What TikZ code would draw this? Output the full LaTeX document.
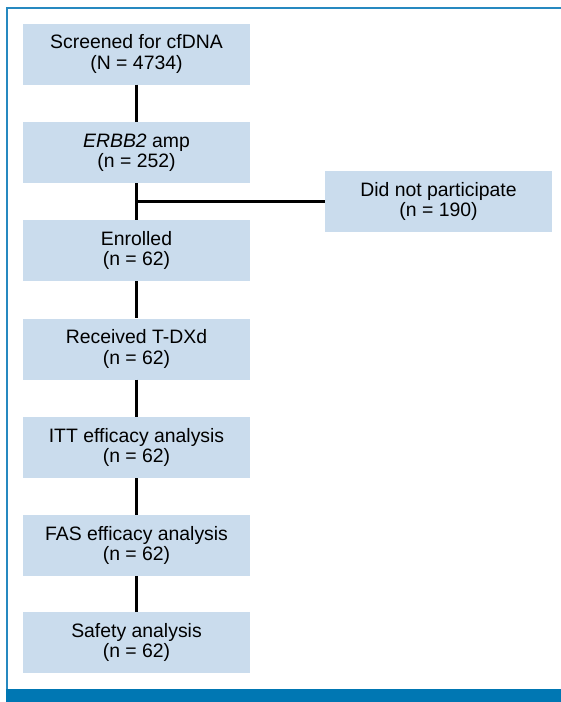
\documentclass[tikz,border=0pt]{standalone}
\usepackage{fontspec}
\setmainfont{Liberation Sans}
\definecolor{boxfill}{RGB}{202,220,237}
\definecolor{framecol}{RGB}{38,137,192}
\definecolor{barcol}{RGB}{0,119,179}
\begin{document}
\begin{tikzpicture}[x=1pt,y=-1pt,
  flowbox/.style={fill=boxfill, draw=none, minimum width=227pt, minimum height=61pt,
    inner sep=0pt, align=center, font=\fontsize{19.4}{20.5}\selectfont},
  link/.style={line width=2.2pt, black}]
\useasboundingbox (0,0) rectangle (561,702);
\fill[white] (0,0) rectangle (561,702);
\draw[framecol, line width=1.6pt] (6.8,689) -- (6.8,7.8) -- (561,7.8);
\fill[barcol] (6,689) rectangle (561,702);
\node[flowbox] (scr) at (136.5,54) {Screened for cfDNA\\(N = 4734)};
\node[flowbox] (amp) at (136.5,152.5) {\textit{ERBB2} amp\\(n = 252)};
\node[flowbox] (enr) at (136.5,250.5) {Enrolled\\(n = 62)};
\node[flowbox] (rec) at (136.5,349) {Received T-DXd\\(n = 62)};
\node[flowbox] (itt) at (136.5,447.5) {ITT efficacy analysis\\(n = 62)};
\node[flowbox] (fas) at (136.5,545.5) {FAS efficacy analysis\\(n = 62)};
\node[flowbox] (saf) at (136.5,642.5) {Safety analysis\\(n = 62)};
\node[flowbox] (dnp) at (438.5,201.5) {Did not participate\\(n = 190)};
\coordinate (br) at (136.5,201.5);
\draw[link] (scr) -- (amp);
\draw[link] (amp) -- (enr);
\draw[link] (br) -- (dnp.west);
\draw[link] (enr) -- (rec);
\draw[link] (rec) -- (itt);
\draw[link] (itt) -- (fas);
\draw[link] (fas) -- (saf);
\end{tikzpicture}
\end{document}
